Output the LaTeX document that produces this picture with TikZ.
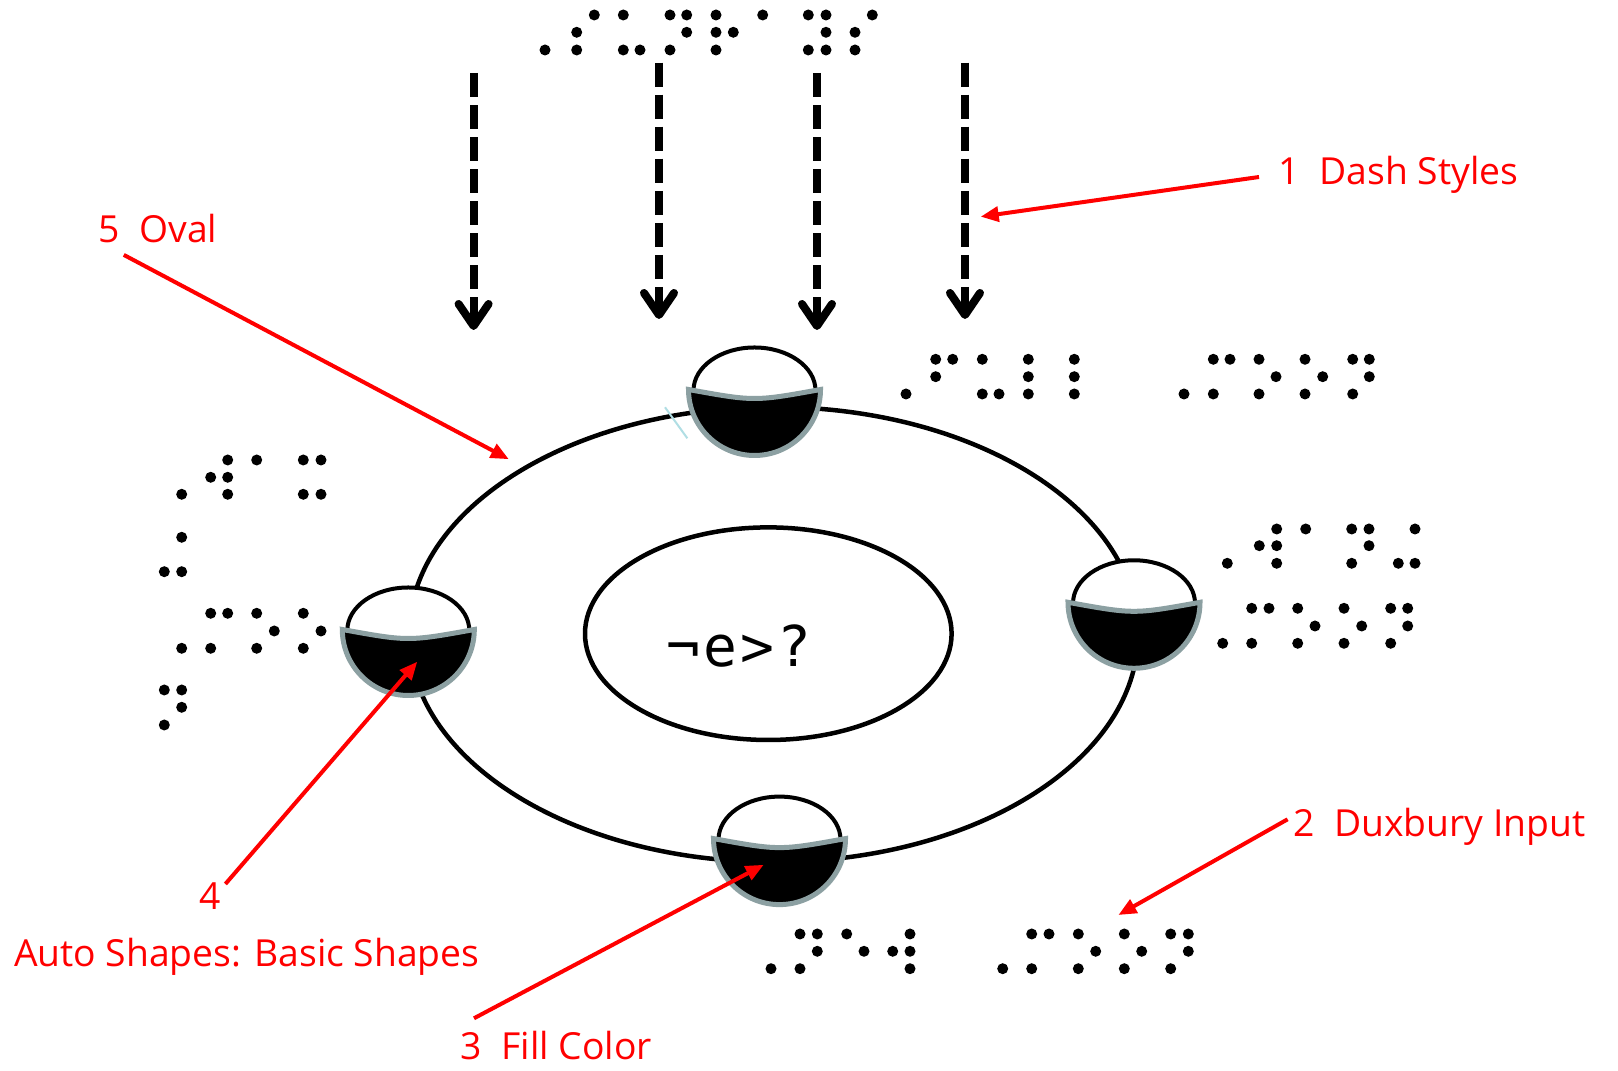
\documentclass[tikz,border=0pt]{standalone}
\usepackage{fontspec}
\usetikzlibrary{arrows.meta}
\newfontfamily\labelfont{Open Sans}
\newfontfamily\brlfont{DejaVu Sans Mono}
\definecolor{rimgray}{RGB}{140,160,162}
\definecolor{tickcyan}{RGB}{176,222,228}
\tikzset{
  dasharrow/.style={line width=0.08cm, dash pattern=on 0.24cm off 0.08cm,
    -{Straight Barb[length=0.22cm,width=0.30cm,round]}},
  redarrow/.style={draw=red, line width=0.04cm, -{Triangle[length=0.18cm,width=0.15cm]}},
  redlabel/.style={text=red, font=\labelfont\fontsize{10.6pt}{12pt}\selectfont, inner sep=0pt},
  moon/.pic={
    \fill[white] (-61,1) arc[start angle=180, end angle=360, x radius=61, y radius=43]
      .. controls (0,12) .. (-61,1) -- cycle;
    \draw[black, line width=0.04cm]
      (-61,1) arc[start angle=180, end angle=360, x radius=61, y radius=43];
    \path[fill=black, draw=rimgray, line width=0.05cm]
      (-66,0) arc[start angle=180, end angle=0, radius=66]
      .. controls (0,12) .. (-66,0) -- cycle;
  }
}
\begin{document}
\begin{tikzpicture}[x=0.01cm,y=-0.01cm]
\useasboundingbox[fill=white] (0,0) rectangle (1618,1071);

% braille dots, top
\foreach \x in {594.3,623.3,670,686.7,716,762.7,808.3,826,872.3} \fill (\x,15) circle[radius=5.5];
\foreach \x in {576.7,686.7,716,733.3,826,855} \fill (\x,32.3) circle[radius=5.5];
\foreach \x in {545,576.7,623.3,640,670,716,808.3,826,855} \fill (\x,50) circle[radius=5.5];
% right upper
\foreach \x in {935.7,952.7,982.3,1028.3,1074.3,1213.3,1230,1259,1305,1352.7,1369.3} \fill (\x,359.3) circle[radius=5.5];
\foreach \x in {935.7,1028.3,1074.3,1276,1322.7,1369.3} \fill (\x,376.7) circle[radius=5.5];
\foreach \x in {906,982.3,999,1028.3,1074.3,1184,1213.3,1259,1305,1352.7} \fill (\x,394) circle[radius=5.5];
% left block
\foreach \x/\y in {227.7/460,256.7/460,303.3/460,321/460,
  210.7/477.3,227.7/477.3,
  181.7/494.3,227.7/494.3,303.3/494.3,321/494.3,
  181.7/537.3,164.3/571.7,181.7/571.7,
  210.7/613.3,227.7/613.3,256.7/613.3,303.3/613.3,
  274.3/631,321/631,
  181.7/648.3,210.7/648.3,256.7/648.3,303.3/648.3,
  164.3/690,181.7/690,181.7/707.3,164.3/725} \fill (\x,\y) circle[radius=5.5];
% right middle
\foreach \x in {1276.7,1305.7,1351.7,1369,1415} \fill (\x,529) circle[radius=5.5];
\foreach \x in {1259.3,1276.7,1369} \fill (\x,545.7) circle[radius=5.5];
\foreach \x in {1227.3,1276.7,1351.7,1398.3,1415} \fill (\x,563.3) circle[radius=5.5];
\foreach \x in {1251.7,1269,1297.7,1344,1390.7,1407.7} \fill (\x,608.3) circle[radius=5.5];
\foreach \x in {1315,1361.7,1407.7} \fill (\x,626) circle[radius=5.5];
\foreach \x in {1222.7,1251.7,1297.7,1344,1390.7} \fill (\x,643.3) circle[radius=5.5];
% bottom
\foreach \x in {800,817.3,846.7,910,1031.7,1049,1078.3,1124.3,1170.7,1188.3} \fill (\x,934) circle[radius=5.5];
\foreach \x in {817.3,864,892.7,910,1095.7,1141.7,1188.3} \fill (\x,951.3) circle[radius=5.5];
\foreach \x in {771,800,910,1002.7,1031.7,1078.3,1124.3,1170.7} \fill (\x,968.7) circle[radius=5.5];

% dashed arrows
\coordinate (a1s) at (473.6,73);   \coordinate (a1e) at (473.6,330);
\coordinate (a2s) at (659,62.7);   \coordinate (a2e) at (659,319);
\coordinate (a3s) at (817,73);     \coordinate (a3e) at (817,330);
\coordinate (a4s) at (965,62.7);   \coordinate (a4e) at (965,319);
\draw[dasharrow] (a1s) -- (a1e);
\draw[dasharrow] (a2s) -- (a2e);
\draw[dasharrow] (a3s) -- (a3e);
\draw[dasharrow] (a4s) -- (a4e);

% ovals
\draw[line width=0.045cm] (773.5,634.5) ellipse[x radius=364.5, y radius=227.5];
\draw[line width=0.045cm] (768.3,633.7) ellipse[x radius=183.3, y radius=106.3];
\node[font=\brlfont\fontsize{16pt}{16pt}\selectfont, anchor=base, inner sep=0pt] (brl) at (739,667) {¬\kern0.9pt e\kern0.9pt >\kern0.9pt ?};

% small cyan tick
\draw[tickcyan, line width=0.02cm] (665,407.3) -- (687.3,438.3);

% moon shapes
\pic at (754.5,389.5) {moon};
\pic at (408.3,629.5) {moon};
\pic at (1134,602.3) {moon};
\pic at (779.5,838.6) {moon};

% labels
\node[redlabel, anchor=base west] (lab1) at (1278,185) {1\ \ Dash Styles};
\node[redlabel, anchor=base west] (lab2) at (1293,836.7) {2\ \ Duxbury Input};
\node[redlabel, anchor=base west] (lab3) at (460,1060) {3\ \ Fill Color};
\node[redlabel, anchor=base] (lab4) at (210,910) {4};
\node[redlabel, anchor=base west] (lab4b) at (13.4,966.7) {Auto Shapes: Basic Shapes};
\node[redlabel, anchor=base west] (lab5) at (98,242.5) {5\ \ Oval};

% red arrows
\coordinate (r1s) at (1259,177);     \coordinate (r1e) at (980.7,216.7);
\coordinate (r2s) at (1287.6,819.3); \coordinate (r2e) at (1118.4,915);
\coordinate (r3s) at (474,1018.3);   \coordinate (r3e) at (763.7,864.8);
\coordinate (r4s) at (225.4,884);    \coordinate (r4e) at (417.3,661.7);
\coordinate (r5s) at (123.8,254.9);  \coordinate (r5e) at (508.8,459.2);
\draw[redarrow] (r1s) -- (r1e);
\draw[redarrow] (r2s) -- (r2e);
\draw[redarrow] (r3s) -- (r3e);
\draw[redarrow] (r4s) -- (r4e);
\draw[redarrow] (r5s) -- (r5e);
\end{tikzpicture}
\end{document}
